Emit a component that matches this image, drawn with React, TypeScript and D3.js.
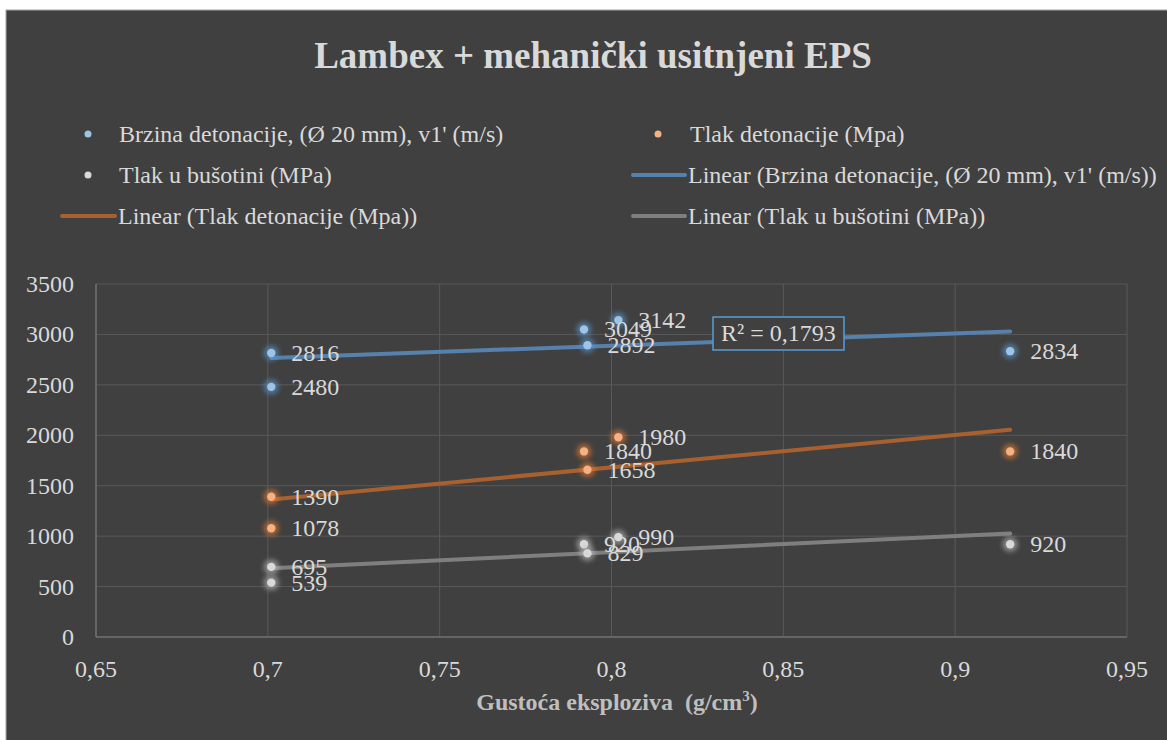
import React from "react";
import * as d3 from "d3";

const density = [0.701, 0.701, 0.792, 0.793, 0.802, 0.916];
const brzina = [2816, 2480, 3049, 2892, 3142, 2834];
const tlakDet = [1390, 1078, 1840, 1658, 1980, 1840];
const tlakBus = [695, 539, 920, 829, 990, 920];
const yTicks = [0, 500, 1000, 1500, 2000, 2500, 3000, 3500];
const xTicks = [0.65, 0.7, 0.75, 0.8, 0.85, 0.9, 0.95];

const W = 1167, H = 740;
const FONT = "'Liberation Serif', 'Times New Roman', serif";
const TXT = "#d9d9d9";

const seriesDefs = [
  { name: "Brzina detonacije, (Ø 20 mm), v1' (m/s)", values: brzina, dot: "#9dc3e6", trend: "#5681ad", glow: "#5b9bd5" },
  { name: "Tlak detonacije (Mpa)", values: tlakDet, dot: "#f4b183", trend: "#a8602e", glow: "#ed7d31" },
  { name: "Tlak u bušotini (MPa)", values: tlakBus, dot: "#d9d9d9", trend: "#7f7f7f", glow: "#bfbfbf" },
];

function regress(xs: number[], ys: number[]) {
  const mx = d3.mean(xs)!, my = d3.mean(ys)!;
  let sxy = 0, sxx = 0, syy = 0;
  xs.forEach((x, i) => { sxy += (x - mx) * (ys[i] - my); sxx += (x - mx) ** 2; syy += (ys[i] - my) ** 2; });
  const b = sxy / sxx;
  return { a: my - b * mx, b, r2: (b * sxy) / syy };
}

const fmt = (v: number) => String(v).replace(".", ",");

export default function App() {
  const x = d3.scaleLinear().domain([0.65, 0.95]).range([96, 1127]);
  const y = d3.scaleLinear().domain([0, 3500]).range([637, 284]);
  const xMin = d3.min(density)!, xMax = d3.max(density)!;
  const r2 = regress(density, brzina).r2;

  const r1 = 134, r2y = 175, r3 = 216;

  return (
    <svg width={W} height={H} style={{ position: "fixed", left: 0, top: 0 }} fontFamily={FONT}>
      <defs>
        <filter id="glow" x="-100%" y="-100%" width="300%" height="300%">
          <feGaussianBlur stdDeviation="2.5" />
        </filter>
      </defs>
      <rect x={0} y={0} width={W} height={H} fill="#ffffff" />
      <rect x={6} y={10} width={W} height={H} fill="#404040" stroke="#a6a6a6" strokeWidth={1} />
      <text x={593} y={68} textAnchor="middle" fontSize={37} fontWeight="bold" fill={TXT}>
        Lambex + mehanički usitnjeni EPS
      </text>

      {/* legend */}
      <g fontSize={24} fill={TXT}>
        <circle cx={88} cy={r1} r={3.5} fill={seriesDefs[0].dot} />
        <text x={119} y={r1 + 8}>{seriesDefs[0].name}</text>
        <circle cx={658} cy={r1} r={3.5} fill={seriesDefs[1].dot} />
        <text x={690} y={r1 + 8}>{seriesDefs[1].name}</text>
        <circle cx={88} cy={r2y} r={3.5} fill={seriesDefs[2].dot} />
        <text x={119} y={r2y + 8}>{seriesDefs[2].name}</text>
        <line x1={633} x2={685} y1={r2y} y2={r2y} stroke={seriesDefs[0].trend} strokeWidth={4} strokeLinecap="round" />
        <text x={688} y={r2y + 8}>{`Linear (${seriesDefs[0].name})`}</text>
        <line x1={62} x2={115} y1={r3} y2={r3} stroke={seriesDefs[1].trend} strokeWidth={4} strokeLinecap="round" />
        <text x={118} y={r3 + 8}>{`Linear (${seriesDefs[1].name})`}</text>
        <line x1={633} x2={685} y1={r3} y2={r3} stroke={seriesDefs[2].trend} strokeWidth={4} strokeLinecap="round" />
        <text x={688} y={r3 + 8}>{`Linear (${seriesDefs[2].name})`}</text>
      </g>

      {/* grid */}
      <g stroke="#595959" strokeWidth={1}>
        {yTicks.map((t) => (
          <line key={"gy" + t} x1={x(0.65)} x2={x(0.95)} y1={y(t)} y2={y(t)} />
        ))}
        {xTicks.map((t) => (
          <line key={"gx" + t} x1={x(t)} x2={x(t)} y1={y(0)} y2={y(3500)} />
        ))}
      </g>
      <line x1={x(0.65)} x2={x(0.95)} y1={y(0)} y2={y(0)} stroke="#7f7f7f" />
      <line x1={x(0.65)} x2={x(0.65)} y1={y(0)} y2={y(3500)} stroke="#7f7f7f" />

      <g fontSize={24} fill={TXT}>
        {yTicks.map((t) => (
          <text key={"ty" + t} x={74} y={y(t) + 8} textAnchor="end">{t}</text>
        ))}
        {xTicks.map((t) => (
          <text key={"tx" + t} x={x(t)} y={677} textAnchor="middle">{fmt(t)}</text>
        ))}
      </g>
      <text x={617} y={710} textAnchor="middle" fontSize={24} fontWeight="bold" fill="#bfbfbf" style={{ whiteSpace: "pre" }}>
        {"Gustoća eksploziva  (g/cm"}<tspan fontSize={15} dy={-9}>3</tspan><tspan dy={9}>)</tspan>
      </text>

      {/* trendlines */}
      {seriesDefs.map((s) => {
        const r = regress(density, s.values);
        return (
          <line key={"tr" + s.name} x1={x(xMin)} x2={x(xMax)} y1={y(r.a + r.b * xMin)} y2={y(r.a + r.b * xMax)}
            stroke={s.trend} strokeWidth={4} strokeLinecap="round" />
        );
      })}

      {/* points */}
      {seriesDefs.map((s) => (
        <g key={"pt" + s.name}>
          {s.values.map((v, i) => (
            <g key={i}>
              <circle cx={x(density[i])} cy={y(v)} r={7.5} fill={s.glow} opacity={0.6} filter="url(#glow)" />
              <circle cx={x(density[i])} cy={y(v)} r={4.2} fill={s.dot} />
            </g>
          ))}
        </g>
      ))}

      {/* labels */}
      <g fontSize={24} fill={TXT}>
        {seriesDefs.map((s) =>
          s.values.map((v, i) => (
            <text key={s.name + i} x={x(density[i]) + 20} y={y(v) + 8}>{v}</text>
          ))
        )}
      </g>

      {/* R² box */}
      <rect x={713} y={317} width={131} height={33} fill="#404040" stroke="#5b9bd5" strokeWidth={1.5} />
      <text x={721} y={341} fontSize={24} fill={TXT}>{`R² = ${fmt(+r2.toFixed(4))}`}</text>
    </svg>
  );
}
